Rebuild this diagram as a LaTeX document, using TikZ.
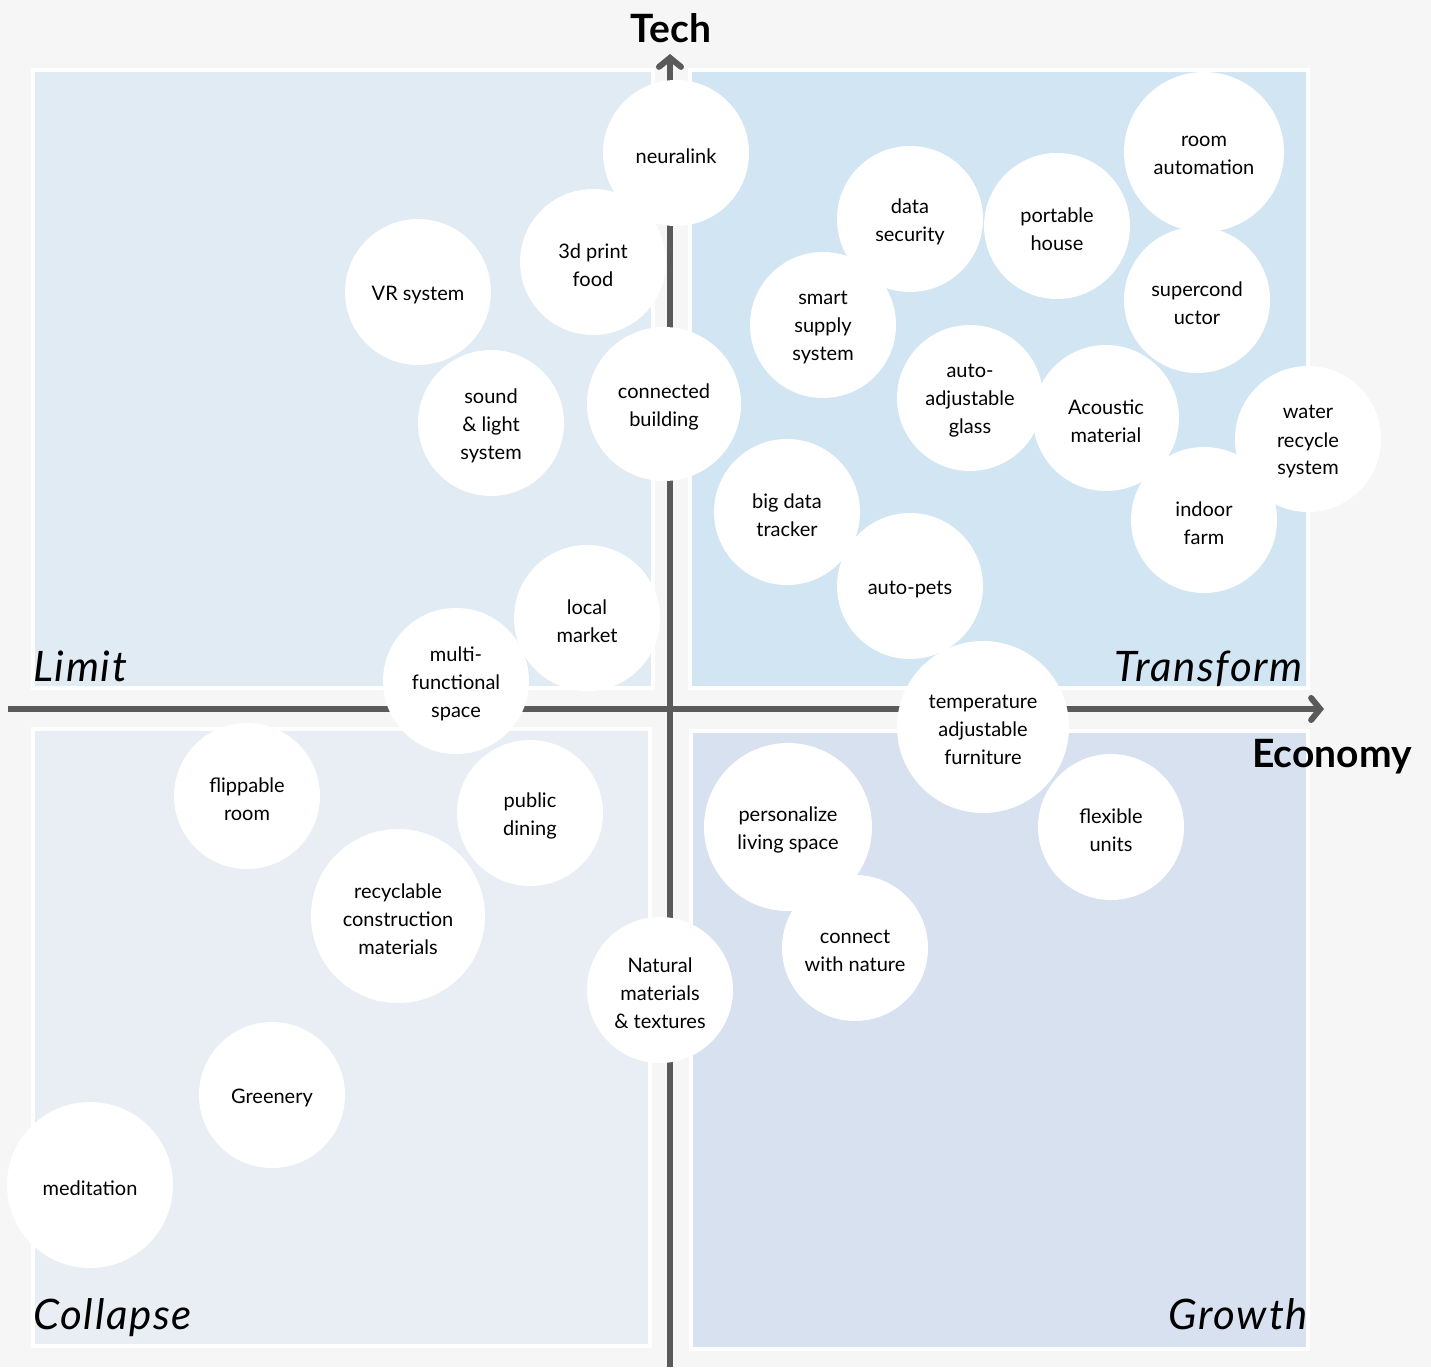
\documentclass[tikz,border=0pt]{standalone}
\usepackage{fontspec}
\setmainfont{Lato}
\usetikzlibrary{arrows.meta}
\definecolor{bgc}{HTML}{F6F6F6}
\definecolor{qtl}{HTML}{E1EBF4}
\definecolor{qtr}{HTML}{D2E5F3}
\definecolor{qbl}{HTML}{E9EEF4}
\definecolor{qbr}{HTML}{D8E1EF}
\definecolor{axisc}{HTML}{5A5A5A}
\tikzset{
  quad/.style={draw=white,line width=3.5pt},
  axisline/.style={draw=axisc,line width=6pt,-{Straight Barb[length=9pt,width=22pt,line cap=round]}},
  bub/.style={circle,fill=white,inner sep=0pt,minimum size=146pt},
  btxt/.style={align=center,inner sep=0pt,yshift=-3pt,font=\fontsize{20}{28}\selectfont},
  qlabel/.style={font=\fontsize{42}{48}\selectfont\itshape\addfontfeatures{LetterSpace=4},inner sep=0pt},
  axlabel/.style={font=\fontsize{39}{44}\selectfont\bfseries,inner sep=0pt}
}
\newcommand{\bubble}[5][]{\node[bub,#1,label={[btxt]center:{#5}}] (#2) at (#3,#4) {};}
\begin{document}
\begin{tikzpicture}[x=1pt,y=-1pt]
\fill[bgc] (0,0) rectangle (1431,1367);
\useasboundingbox (0,0) rectangle (1431,1367);
% quadrants
\draw[quad,fill=qtl] (33,70) rectangle (653,688);
\draw[quad,fill=qtr] (690,70) rectangle (1308,688);
\draw[quad,fill=qbl] (33,729) rectangle (650,1346);
\draw[quad,fill=qbr] (691,731) rectangle (1308,1349);
% axes
\coordinate (vbot) at (670,1367);
\coordinate (vtop) at (670,54);
\coordinate (hleft) at (8,709);
\coordinate (hright) at (1324,709);
\draw[axisline] (vbot) -- (vtop);
\draw[axisline] (hleft) -- (hright);
% axis labels
\node[axlabel] (tech) at (671,28) {Tech};
\node[axlabel] (econ) at (1332,757) {Economy};
% quadrant labels
\node[qlabel,anchor=base west] (limit) at (33,681) {Limit};
\node[qlabel,anchor=base east] (transform) at (1303,681) {Transform};
\node[qlabel,anchor=base west] (collapse) at (33,1329) {Collapse};
\node[qlabel,anchor=base east] (growth) at (1308,1329) {Growth};
% bubbles
\bubble{printfood}{593}{262}{3d print\\food}
\bubble{neuralink}{676}{153}{neuralink}
\bubble{vr}{418}{292}{VR system}
\bubble{sound}{491}{423}{sound\\\& light\\system}
\bubble[minimum size=154pt]{connected}{664}{404}{connected\\building}
\bubble{local}{587}{618}{local\\market}
\bubble{multi}{456}{681}{multi-\\functional\\space}
\bubble{datasec}{910}{219}{data\\security}
\bubble{smart}{823}{325}{smart\\supply\\system}
\bubble{portable}{1057}{226}{portable\\house}
\bubble[minimum size=160pt]{room}{1204}{152}{room\\automation}
\bubble{supercond}{1197}{300}{supercond\\uctor}
\bubble{glass}{970}{398}{auto-\\adjustable\\glass}
\bubble{acoustic}{1106}{418}{Acoustic\\material}
\bubble{indoor}{1204}{520}{indoor\\farm}
\bubble{water}{1308}{439}{water\\recycle\\system}
\bubble{bigdata}{787}{512}{big data\\tracker}
\bubble{pets}{910}{586}{auto-pets}
\bubble[minimum size=172pt]{temp}{983}{727}{temperature\\adjustable\\furniture}
\bubble{flippable}{247}{796}{flippable\\room}
\bubble{dining}{530}{813}{public\\dining}
\bubble[minimum size=174pt]{recyc}{398}{916}{recyclable\\construction\\materials}
\bubble[minimum size=168pt]{personal}{788}{827}{personalize\\living space}
\bubble{flexible}{1111}{827}{flexible\\units}
\bubble{nature}{855}{948}{connect\\with nature}
\bubble{natural}{660}{990}{Natural\\materials\\\& textures}
\bubble{greenery}{272}{1095}{Greenery}
\bubble[minimum size=166pt]{meditation}{90}{1185}{meditation}
\end{tikzpicture}
\end{document}
